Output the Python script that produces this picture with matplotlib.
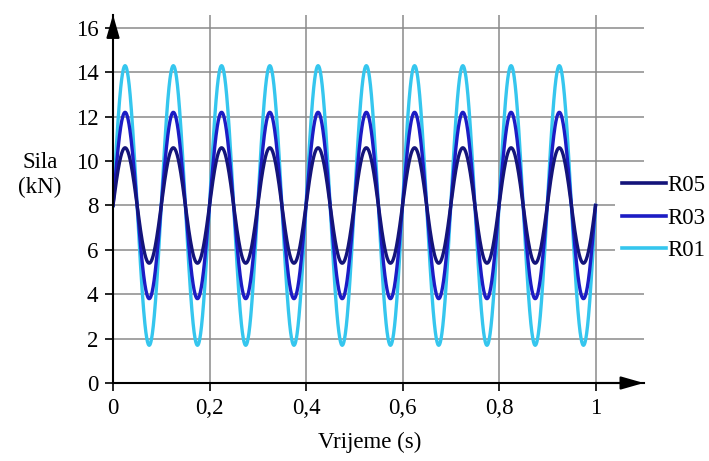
import matplotlib.pyplot as plt
import numpy as np

# signal parameters (mean 8 kN, 10 cycles per second)
serije = ["R05", "R03", "R01"]
srednja = [8.0, 8.0, 8.0]
amplituda = [2.6, 4.2, 6.3]
frekvencija = 10.0
boje = ["#14147a", "#1c1cc4", "#35c6ee"]

x_ticks = [0, 0.2, 0.4, 0.6, 0.8, 1.0]
x_labels = ["0", "0,2", "0,4", "0,6", "0,8", "1"]
y_ticks = [0, 2, 4, 6, 8, 10, 12, 14, 16]

plt.rcParams["font.family"] = ["Liberation Serif", "DejaVu Serif"]

t = np.linspace(0, 1, 2001)

fig = plt.figure(figsize=(7.09, 4.61), dpi=100)
ax = fig.add_axes([0.1594, 0.1692, 0.7486, 0.799])

linije = {}
for i in reversed(range(len(serije))):
    y = srednja[i] + amplituda[i] * np.sin(2 * np.pi * frekvencija * t)
    linije[serije[i]], = ax.plot(t, y, color=boje[i], lw=2.4, zorder=3 + (2 - i))

ax.set_xlim(0, 1.1)
ax.set_ylim(0, 16.6)
ax.set_xticks(x_ticks)
ax.set_xticklabels(x_labels)
ax.set_yticks(y_ticks)
ax.tick_params(labelsize=16.5, length=5.5, width=1.2, color="black", pad=5)
ax.grid(True, color="#8a8a8a", lw=1.1)
ax.set_axisbelow(True)
for s in ["top", "right"]:
    ax.spines[s].set_visible(False)
for s in ["left", "bottom"]:
    ax.spines[s].set_linewidth(1.5)
    ax.spines[s].set_zorder(6)

# arrow heads at axis ends
strelica = dict(arrowstyle="-|>,head_length=1.4,head_width=0.4", color="black",
                lw=1.5, shrinkA=0, shrinkB=0)
ax.annotate("", xy=(1.1, 0), xytext=(1.0, 0), arrowprops=strelica,
            annotation_clip=False, zorder=7)
ax.annotate("", xy=(0, 16.6), xytext=(0, 15.5), arrowprops=strelica,
            annotation_clip=False, zorder=7)

fig.text(0.056, 0.62, "Sila\n(kN)", ha="center", va="center", fontsize=16.5, linespacing=1.25)
fig.text(0.522, 0.04, "Vrijeme (s)", ha="center", va="center", fontsize=16.5)

leg = fig.legend([linije[s] for s in serije], serije, loc="center left",
                 bbox_to_anchor=(0.868, 0.527), fontsize=16.5, frameon=True,
                 facecolor="white", edgecolor="none", framealpha=1,
                 handlelength=1.9, handletextpad=0.05, labelspacing=0.5,
                 borderpad=0.3, borderaxespad=0)
for h in leg.get_lines():
    h.set_linewidth(2.6)

fig.savefig("out.png", dpi=100)
